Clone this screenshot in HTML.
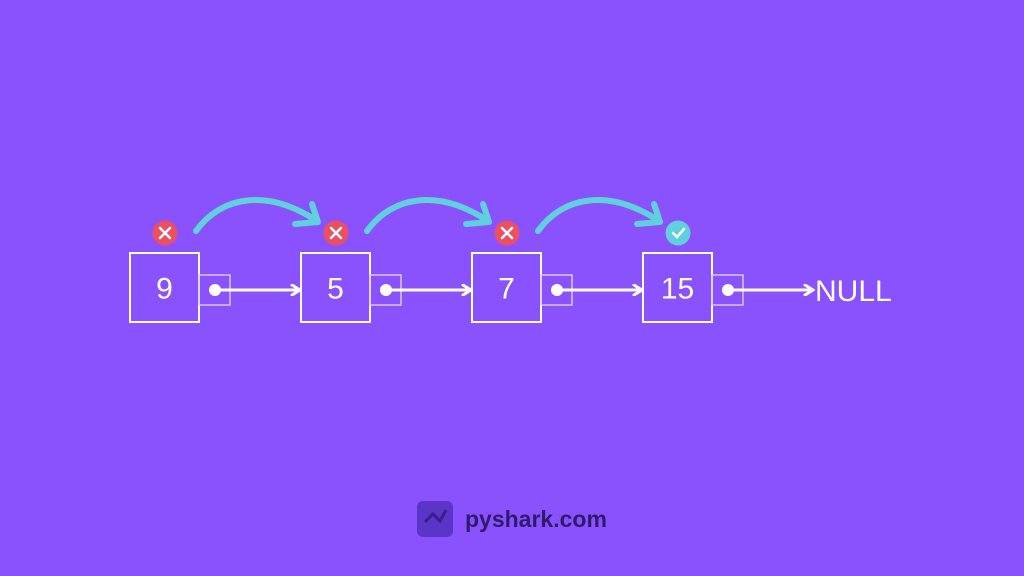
<!DOCTYPE html>
<html><head><meta charset="utf-8"><style>
html,body{margin:0;padding:0;background:#8a52fd;}
svg{display:block}
</style></head><body>
<svg id="chart" width="1024" height="576" viewBox="0 0 1024 576">
<rect width="1024" height="576" fill="#8a52fd"/>
<defs>
<marker id="ah" markerWidth="12" markerHeight="12" refX="9" refY="6" orient="auto" markerUnits="userSpaceOnUse"><path d="M2,1 L10,6 L2,11" fill="none" stroke="#fff" stroke-width="3" stroke-linecap="round"/></marker>
</defs>
<g id="g"></g>
<g>
<rect x="417" y="501" width="36" height="36" rx="6" fill="#5b34c8"/>
<path d="M425,522 L433,514 L440,521 L446,510" fill="none" stroke="#3a1f86" stroke-width="3"/>
<text x="465" y="527" font-family="Liberation Sans, sans-serif" font-size="23" font-weight="bold" fill="#2f1a6e">pyshark.com</text>
</g>
</svg>
<script>
const values = ["9","5","7","15"];
const found = [false,false,false,true];
const endLabel = "NULL";
const NS="http://www.w3.org/2000/svg";
const g=document.getElementById('g');
function el(t,a,p){const e=document.createElementNS(NS,t);for(const k in a)e.setAttribute(k,a[k]);(p||g).appendChild(e);return e;}
const x0=130, step=171, by=253, bs=69;
const xOf=i=>x0+i*step;
values.forEach((v,i)=>{
  const x=xOf(i);
  const box=el('rect',{x:x,y:by,width:bs,height:bs,fill:'none',stroke:'#fff','stroke-width':2});
  
  
  const ptr=el('rect',{x:x+bs,y:by+22,width:31,height:30,fill:'none',stroke:'#d8c8ff','stroke-width':1.5});
  
  
  const t=el('text',{x:x+bs/2,y:by+bs/2+11,'text-anchor':'middle','font-family':'Liberation Sans, sans-serif','font-size':30,fill:'#fff'});
  t.textContent=v;
  
  
  const dot=el('circle',{cx:x+bs+16,cy:by+37,r:6,fill:'#fff'});
  
  
  const ex = i<values.length-1 ? xOf(i+1)-2 : x+bs+16+84;
  const ar=el('line',{x1:x+bs+16,y1:by+37,x2:ex,y2:by+37,stroke:'#fff','stroke-width':3,'marker-end':'url(#ah)'});
  
  
  const cx=x+35, cy=233;
  const b=el('circle',{cx:cx,cy:cy,r:12.5,fill:found[i]?'#5fd0dc':'#ec4f5f'});
  
  
  if(found[i]){
    el('path',{d:`M${cx-5},${cy} L${cx-1},${cy+4} L${cx+6},${cy-4}`,fill:'none',stroke:'#fff','stroke-width':2.5,'stroke-linecap':'round'});
  } else {
    el('path',{d:`M${cx-5},${cy-5} L${cx+5},${cy+5} M${cx+5},${cy-5} L${cx-5},${cy+5}`,fill:'none',stroke:'#fff','stroke-width':2.5,'stroke-linecap':'round'});
  }
  if(i<values.length-1){
    const sx=x+66, ex2=xOf(i+1)+16;
    const arc=el('path',{d:`M${sx},${231} C${sx+25},${196} ${ex2-50},${188} ${ex2},${221}`,fill:'none',stroke:'#5fd0dc','stroke-width':6,'stroke-linecap':'round'});
    
    
    el('path',{d:`M${ex2-5},${204} L${ex2+1},${222} L${ex2-22},${224}`,fill:'none',stroke:'#5fd0dc','stroke-width':6,'stroke-linecap':'round','stroke-linejoin':'round'});
  }
});
const last=xOf(values.length-1)+bs+16+87;
const nt=el('text',{x:last,y:by+48,'font-family':'Liberation Sans, sans-serif','font-size':30,fill:'#fff'});
nt.textContent=endLabel;


</script>
</body></html>
